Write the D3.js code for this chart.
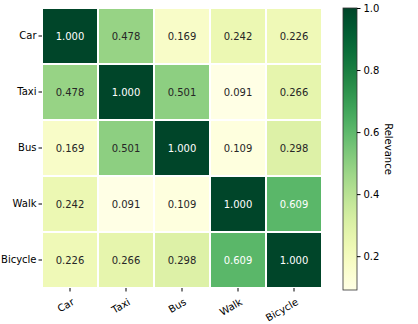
<!DOCTYPE html>
<html><head><meta charset="utf-8">
<script src="https://cdn.jsdelivr.net/npm/d3@7"></script>
<style>body{margin:0;background:#fff}svg{display:block}text{font-family:"DejaVu Sans",sans-serif}</style>
</head><body><svg id="c" width="418" height="324"></svg>
<script>
const categories = ["Car","Taxi","Bus","Walk","Bicycle"];
const values = [
  [1.000,0.478,0.169,0.242,0.226],
  [0.478,1.000,0.501,0.091,0.266],
  [0.169,0.501,1.000,0.109,0.298],
  [0.242,0.091,0.109,1.000,0.609],
  [0.226,0.266,0.298,0.609,1.000]
];
const cbTicks = [0.2,0.4,0.6,0.8,1.0];
const cbLabel = "Relevance";

const svg = d3.select("#c");
const L=42, T=8, S=280;
const x = d3.scaleBand().domain(categories).range([L,L+S]);
const y = d3.scaleBand().domain(categories).range([T,T+S]);
const vmin = d3.min(values.flat()), vmax = d3.max(values.flat());
const color = d3.scaleSequential(d3.interpolateYlGn).domain([vmin,vmax]);

const cells = [];
values.forEach((r,i)=>r.forEach((v,j)=>cells.push({r:categories[i],c:categories[j],v})));
svg.append("g").selectAll("rect").data(cells).join("rect")
  .attr("x",d=>x(d.c)).attr("y",d=>y(d.r))
  .attr("width",x.bandwidth()).attr("height",y.bandwidth())
  .attr("fill",d=>color(d.v)).attr("stroke","#fff").attr("stroke-width",2);
svg.append("g").selectAll("text").data(cells).join("text")
  .attr("x",d=>x(d.c)+x.bandwidth()/2).attr("y",d=>y(d.r)+y.bandwidth()/2)
  .attr("text-anchor","middle").attr("dominant-baseline","central")
  .attr("font-size",10).attr("fill",d=>d.v>0.55?"#fff":"#262626")
  .text(d=>d.v.toFixed(3));

const ya = svg.append("g").attr("transform",`translate(${L},0)`)
  .call(d3.axisLeft(y).tickSize(3.5).tickPadding(2));
ya.select(".domain").remove();
ya.selectAll("text").attr("font-size",10).attr("fill","#000");
const xa = svg.append("g").attr("transform",`translate(0,${T+S})`)
  .call(d3.axisBottom(x).tickSize(3.5).tickPadding(2));
xa.select(".domain").remove();
xa.selectAll("text").attr("font-size",10).attr("fill","#000")
  .attr("text-anchor","end").attr("y",0).attr("dy",0)
  .attr("transform","translate(5,16) rotate(-30)");

// colorbar
const cbX=343, cbW=14, cbT=8, cbB=290;
const cy = d3.scaleLinear().domain([vmin,vmax]).range([cbB,cbT]);
const defs = svg.append("defs");
const grad = defs.append("linearGradient").attr("id","g").attr("x1",0).attr("y1",1).attr("x2",0).attr("y2",0);
d3.range(0,1.0001,0.05).forEach(t=>grad.append("stop").attr("offset",t).attr("stop-color",color(vmin+t*(vmax-vmin))));
svg.append("rect").attr("x",cbX).attr("y",cbT).attr("width",cbW).attr("height",cbB-cbT)
  .attr("fill","url(#g)").attr("stroke","#333").attr("stroke-width",0.8);
const ca = svg.append("g").attr("transform",`translate(${cbX+cbW},0)`)
  .call(d3.axisRight(cy).tickValues(cbTicks).tickFormat(d3.format(".1f")).tickSize(3.5).tickPadding(3));
ca.select(".domain").remove();
ca.selectAll("text").attr("font-size",10).attr("fill","#000");
svg.append("text").attr("transform",`translate(385,${(cbT+cbB)/2}) rotate(90)`)
  .attr("text-anchor","middle").attr("font-size",10).attr("fill","#000").text(cbLabel);
</script></body></html>
